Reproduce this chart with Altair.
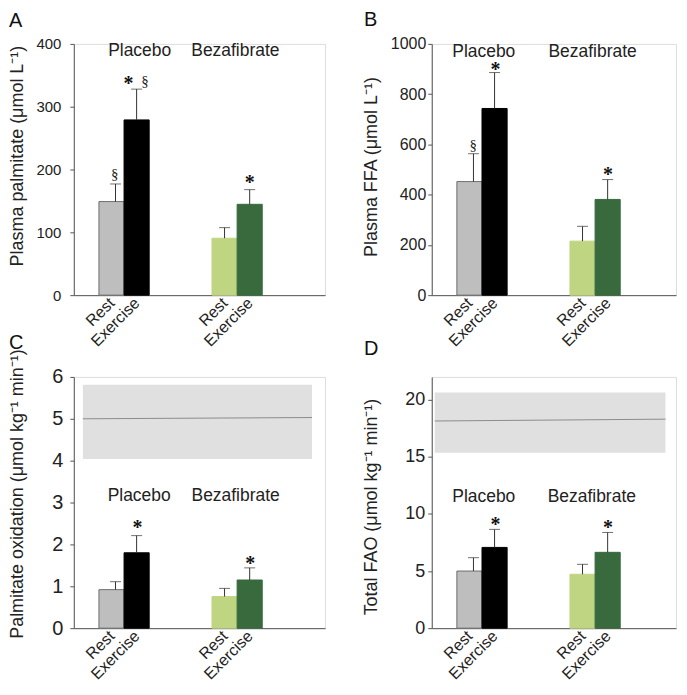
import altair as alt
import pandas as pd

# ---------------- data ----------------
groups = ["Placebo", "Placebo", "Bezafibrate", "Bezafibrate"]
conditions = ["Rest", "Exercise", "Rest", "Exercise"]

palmitate_mean = [149, 279, 90.6, 144.6]
palmitate_upper = [177, 328, 107.5, 168]
ffa_mean = [452, 743, 215, 381]
ffa_upper = [563, 886, 274, 460]
pox_mean = [0.92, 1.80, 0.755, 1.15]
pox_upper = [1.11, 2.21, 0.95, 1.44]
fao_mean = [5.0, 7.07, 4.72, 6.64]
fao_upper = [6.17, 8.65, 5.59, 8.38]

# reference ranges (dotted band and mean line) for panels C and D
pox_band = [4.04, 5.81]
pox_ref_line = [5.0, 5.03]
fao_band = [15.37, 20.64]
fao_ref_line = [18.14, 18.30]

# slot layout on a 0-10 category axis
slot_left = [1.0, 2.0, 5.5, 6.5]
slot_right = [2.0, 3.0, 6.5, 7.5]
err_slot = [1.66, 2.5, 6.0, 7.0]

# significance marks: (symbol, slot, value)
marks_A = [("§", 1.63, 192), ("*", 2.18, 341), ("§", 2.83, 339), ("*", 7.0, 183)]
marks_B = [("§", 1.65, 593), ("*", 2.54, 907), ("*", 7.01, 491)]
marks_C = [("*", 2.53, 2.46), ("*", 7.02, 1.61)]
marks_D = [("*", 2.54, 9.26), ("*", 7.01, 9.03)]

FONT = "Liberation Sans"
SERIF = "Liberation Serif"
keys = [g + " " + c for g, c in zip(groups, conditions)]
FILLS = ["#BEBEBE", "#000000", "#BFD581", "#386A3E"]
STROKES = ["#6E6E6E", "#000000", "#BFD581", "#386A3E"]
AXIS_COL = "#555555"
TEXT_COL = "#222222"


def panel(letter, mean, upper, ytitle, ydomain, yticks, xmax, width,
          label_fs, label_pad, title_x, title_y, group_pos, marks,
          band=None, ref_line=None, band_x=None, title_dx=-65, title_offset=6,
          title_dy=0):
    df = pd.DataFrame({
        "key": keys, "x0": slot_left, "x1": slot_right, "ex": err_slot,
        "mean": mean, "upper": upper,
    })
    xscale = alt.Scale(domain=[0, xmax], nice=False, zero=False)
    yscale = alt.Scale(domain=ydomain, nice=False, zero=False)
    xaxis = alt.Axis(
        values=[1.5, 2.5, 6.0, 7.0],
        labelExpr="datum.value < 2 ? 'Rest' : datum.value < 3 ? 'Exercise' : datum.value < 6.5 ? 'Rest' : 'Exercise'",
        labelAngle=315, labelAlign="right", labelBaseline="middle",
        ticks=False, tickSize=0, labelPadding=5, labelFontSize=16,
        labelFont=FONT, labelColor=TEXT_COL, domainColor=AXIS_COL,
        title=None, grid=False, labelOverlap=False, labelFlush=False,
        labelBound=False,
    )
    yaxis = alt.Axis(
        values=yticks, format="d", title=ytitle, titleFont=FONT, titleFontSize=18,
        titleFontWeight="normal", titleColor=TEXT_COL, titleX=title_x,
        titleY=title_y, titleAngle=270, titleAlign="center",
        titleBaseline="bottom", labelFont=FONT, labelFontSize=label_fs,
        labelColor=TEXT_COL, labelPadding=label_pad, tickSize=4,
        tickColor=AXIS_COL, domainColor=AXIS_COL, grid=False,
        labelFlush=False, labelOverlap=False,
    )
    X = lambda f: alt.X(f, scale=xscale, axis=xaxis)
    Y = lambda f: alt.Y(f, scale=yscale, axis=yaxis)

    layers = []
    if band is not None:
        bdf = pd.DataFrame({"bx0": [band_x[0]], "bx1": [band_x[1]],
                            "by0": [band[0]], "by1": [band[1]]})
        layers.append(alt.Chart(bdf).mark_rect(color="#E0E0E0").encode(
            x=X("bx0:Q"), x2="bx1:Q", y=Y("by0:Q"), y2="by1:Q"))
        ldf = pd.DataFrame({"lx": band_x, "ly": ref_line})
        layers.append(alt.Chart(ldf).mark_line(color="#8C8C8C", strokeWidth=1).encode(
            x=X("lx:Q"), y=Y("ly:Q")))

    layers.append(alt.Chart(df).mark_bar(strokeWidth=1).encode(
        x=X("x0:Q"), x2="x1:Q", y=Y("mean:Q"), y2=alt.datum(0),
        color=alt.Color("key:N", scale=alt.Scale(domain=keys, range=FILLS), legend=None),
        stroke=alt.Stroke("key:N", scale=alt.Scale(domain=keys, range=STROKES), legend=None),
    ))
    layers.append(alt.Chart(df).mark_rule(color="#333333", strokeWidth=1).encode(
        x=X("ex:Q"), y=Y("mean:Q"), y2="upper:Q"))
    layers.append(alt.Chart(df).mark_tick(orient="horizontal", size=11, thickness=1,
                                          color="#333333").encode(
        x=X("ex:Q"), y=Y("upper:Q")))

    gdf = pd.DataFrame({"label": ["Placebo", "Bezafibrate"],
                        "gx": [group_pos[0], group_pos[1]],
                        "gy": [group_pos[2], group_pos[2]]})
    layers.append(alt.Chart(gdf).mark_text(font=FONT, fontSize=17.5, color=TEXT_COL,
                                           baseline="middle", align="center").encode(
        x=X("gx:Q"), y=Y("gy:Q"), text="label:N"))

    mdf = pd.DataFrame({"sym": [m[0] for m in marks], "mx": [m[1] for m in marks],
                        "my": [m[2] for m in marks]})
    stars = mdf[mdf["sym"] == "*"]
    secs = mdf[mdf["sym"] == "§"]
    layers.append(alt.Chart(stars).mark_text(font=SERIF, fontSize=20, fontWeight="bold",
                                             color="#111111", baseline="alphabetic",
                                             align="center", dy=9).encode(
        x=X("mx:Q"), y=Y("my:Q"), text="sym:N"))
    if len(secs):
        layers.append(alt.Chart(secs).mark_text(font=SERIF, fontSize=15, color="#222222",
                                                baseline="alphabetic", align="center",
                                                dy=4).encode(
            x=X("mx:Q"), y=Y("my:Q"), text="sym:N"))

    return alt.layer(*layers).properties(
        width=width, height=252,
        title=alt.TitleParams(text=letter, anchor="start", frame="group", dx=title_dx,
                              dy=title_dy, fontSize=20, fontWeight="normal", font=FONT,
                              color="#111111", offset=title_offset),
    )


pA = panel("A", palmitate_mean, palmitate_upper, "Plasma palmitate (μmol L⁻¹)",
           [0, 400], [0, 100, 200, 300, 400], 10, 252, 15, 9, -47, 112,
           (2.62, 6.43, 388), marks_A, title_dx=-65, title_offset=6)
pB = panel("B", ffa_mean, ffa_upper, "Plasma FFA (μmol L⁻¹)",
           [0, 1000], [0, 200, 400, 600, 800, 1000], 9.72, 245, 16, 2, -51, 123,
           (2.07, 6.4, 968), marks_B, title_dx=-68, title_offset=6)
pC = panel("C", pox_mean, pox_upper, "Palmitate oxidation (μmol kg⁻¹ min⁻¹)",
           [0, 6], [0, 1, 2, 3, 4, 5, 6], 10, 252, 20, 7, -47, 117,
           (2.6, 6.44, 3.15), marks_C, band=pox_band, ref_line=pox_ref_line,
           band_x=[0.36, 9.48], title_dx=-65, title_offset=0, title_dy=4)
pD = panel("D", fao_mean, fao_upper, "Total FAO (μmol kg⁻¹ min⁻¹)",
           [0, 22], [0, 5, 10, 15, 20], 9.72, 245, 18, 3, -51, 130,
           (2.07, 6.37, 11.5), marks_D, band=fao_band, ref_line=fao_ref_line,
           band_x=[0.12, 9.3], title_dx=-68, title_offset=18)

chart = alt.concat(pA, pB, pC, pD, columns=2,
                   spacing={"row": 82, "column": 107}, bounds="flush").properties(
    padding={"left": 0, "top": 0, "right": 2, "bottom": 2}
).configure_view(stroke=None).configure(background="white")

chart.save("out.html", embed_options={"renderer": "svg", "actions": False})
